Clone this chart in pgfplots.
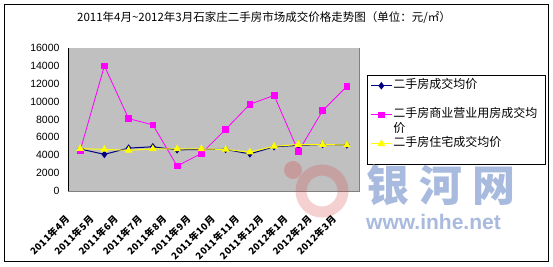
\documentclass[border=0pt]{standalone}
\usepackage{fontspec}
\setmainfont{Liberation Sans}
\newfontfamily\cjk{Noto Sans CJK SC}
\newfontfamily\cjkl[LetterSpace=5]{Noto Sans CJK SC}
\usepackage{pgfplots}
\pgfplotsset{compat=1.18}
\definecolor{plotbg}{HTML}{C0C0C0}
\definecolor{framegray}{HTML}{808080}
\definecolor{navyc}{HTML}{000080}
\definecolor{pinkc}{HTML}{FF00FF}
\definecolor{yellowc}{HTML}{FFFF00}
\definecolor{wmblue}{RGB}{168,186,222}
\definecolor{wmred}{RGB}{215,70,70}
\begin{document}
\begin{tikzpicture}[x=1pt,y=1pt]
\path[use as bounding box] (0,0) rectangle (553,267);
\fill[white] (0,0) rectangle (553,267);
\draw[black, line width=1pt] (4.5,5.5) rectangle (548.5,262.5);
\node[font=\cjk\fontsize{11.5pt}{13pt}\selectfont] at (264,249) {2011年4月\textasciitilde2012年3月石家庄二手房市场成交价格走势图（单位：元/㎡）};
\begin{axis}[
  at={(68pt,76pt)}, anchor=south west,
  width=291pt, height=143pt, scale only axis,
  xmin=-0.5, xmax=11.5, ymin=0, ymax=16000,
  axis line style={draw=framegray, line width=0.8pt},
  xtick={0,...,11},
  xticklabels={2011年4月,2011年5月,2011年6月,2011年7月,2011年8月,2011年9月,2011年10月,2011年11月,2011年12月,2012年1月,2012年2月,2012年3月},
  xticklabel style={font=\cjkl\bfseries\fontsize{9.5pt}{11pt}\selectfont, xshift=-10pt, yshift=-24pt, rotate=45, anchor=east},
  x tick style={draw=none},
  extra x ticks={-0.5,0.5,...,11.5},
  extra x tick labels={},
  extra x tick style={grid=none, tick align=outside, tick pos=bottom, major tick length=5pt, tick style={draw=black, line width=0.8pt}},
  ytick={0,2000,...,16000},
  y tick style={draw=none},
  scaled y ticks=false,
  yticklabel style={font=\fontsize{10.5pt}{12pt}\selectfont, xshift=-5pt},
  /pgf/number format/1000 sep={},
  /pgf/number format/assume math mode=true,
  ymajorgrids, grid style={black, line width=0.8pt},
  legend style={at={(axis description cs:1.035,0.793)}, anchor=north west, draw=none, fill=none,
    font=\cjk\fontsize{12pt}{14pt}\selectfont, row sep=0.5pt, inner sep=1pt,
    nodes={inner sep=1pt, text height=9pt, text depth=3pt}},
  legend cell align=left,
  legend image code/.code={\draw[mark repeat=2,mark phase=2] plot coordinates {(0pt,0pt) (10.5pt,0pt) (21pt,0pt)};},
]
\fill[plotbg] (rel axis cs:0,0) rectangle (rel axis cs:1,1);
\addplot[navyc, line width=1pt, mark=diamond*, mark size=3pt, mark options={fill=navyc, draw=navyc}]
  coordinates {(0,4700) (1,4100) (2,4800) (3,4950) (4,4600) (5,4650) (6,4650) (7,4150) (8,4950) (9,5100) (10,5200) (11,5150)};
\addlegendentry{二手房成交均价}
\addlegendimage{empty legend}
\addlegendentry{}
\addplot[pinkc, line width=0.8pt, mark=square*, mark size=2.8pt, mark options={fill=pinkc, draw=pinkc}]
  coordinates {(0,4500) (1,14000) (2,8100) (3,7400) (4,2800) (5,4200) (6,6900) (7,9700) (8,10700) (9,4400) (10,9000) (11,11700)};
\addlegendentry{二手房商业营业用房成交均}
\addlegendimage{empty legend}
\addlegendentry{价}
\addplot[yellowc, line width=1pt, mark=triangle*, mark size=3.5pt, mark options={fill=yellowc, draw=yellowc}]
  coordinates {(0,4750) (1,4650) (2,4550) (3,4700) (4,4700) (5,4700) (6,4650) (7,4350) (8,5000) (9,5200) (10,5200) (11,5150)};
\addlegendentry{二手房住宅成交均价}
\draw[black, line width=0.8pt] (rel axis cs:0,1) -- (rel axis cs:0,0) -- (rel axis cs:1,0);
\end{axis}
\draw[black, line width=0.8pt] (367,192) rectangle (545,103);
% faint logo
\fill[wmred, opacity=0.3] (293,97) circle (9);
\draw[wmred, opacity=0.25, line width=11pt] (322,76) circle (21);
\node[font=\cjk\bfseries\fontsize{43pt}{45pt}\selectfont, text=wmblue, anchor=west, inner sep=0pt] at (366,82) {银\hspace{10pt}河\hspace{10pt}网};
\node[font=\bfseries\fontsize{21pt}{22pt}\selectfont, text=wmblue, anchor=west, inner sep=0pt] at (366,45) {www.inhe.net};
\end{tikzpicture}
\end{document}
